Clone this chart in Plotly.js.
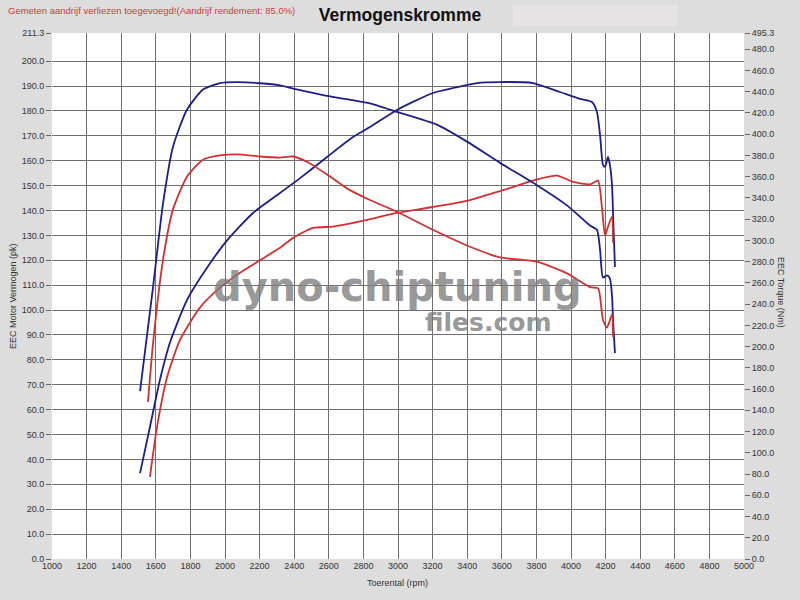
<!DOCTYPE html>
<html>
<head>
<meta charset="utf-8">
<script src="https://cdn.plot.ly/plotly-3.0.1.min.js"></script>
<style>html,body{margin:0;padding:0;background:#dddddd;}#chart{width:800px;height:600px;}</style>
</head>
<body>
<div id="chart"></div>
<script>
// Tuned torque (Nm, right axis)
var rpmTorqueTuned = [1509,1584,1642,1699,1780,1873,1971,2069,2202,2318,2393,2474,2590,2740,2838,2994,3225,3399,3590,3803,3977,4110,4150,4168,4185,4208,4225,4237,4243,4254];
var torqueTuned    = [158,256,335,388,423,442,448,449,448,446,443,440,436,432,429,421,409,393,373,352,333,314,310,291,265,267,264,248,225,194];
// Stock torque (Nm, right axis)
var rpmTorqueStock = [1555,1584,1642,1699,1780,1873,1971,2069,2202,2318,2393,2474,2590,2705,2838,2994,3202,3416,3590,3803,3977,4110,4156,4168,4185,4208,4237,4243];
var torqueStock    = [148,203,282,329,360,376,380,381,379,378,379,374,362,349,338,327,310,294,284,280,269,256,255,247,225,218,230,209];
// Tuned power (pk, left axis)
var rpmPowerTuned = [1509,1566,1624,1682,1780,1896,2012,2162,2318,2434,2590,2740,2838,2994,3202,3318,3457,3590,3780,3936,4052,4121,4150,4168,4185,4197,4214,4225,4237,4243,4254];
var powerTuned    = [34.5,53,72,87,104,117,128,139,147,153,161.5,169.5,173.5,180.4,187.2,189.2,191.2,191.6,191.2,187.6,184.8,183.6,179.6,170.3,158.3,157.5,161.5,158.3,150.2,139,117.3];
// Stock power (pk, left axis)
var rpmPowerStock = [1566,1607,1665,1740,1855,1971,2087,2202,2318,2393,2509,2624,2740,2838,2994,3202,3416,3549,3647,3803,3919,4012,4110,4156,4179,4197,4214,4237,4243];
var powerStock    = [33,53,73,88,101,109,115,120,125,129,133,133.5,135,136.5,139,141.4,144.2,147,149,152.5,154,151.5,150.5,152,141,130,133.5,137.5,127];

// Axis ticks
var xTicks = [1000,1200,1400,1600,1800,2000,2200,2400,2600,2800,3000,3200,3400,3600,3800,4000,4200,4400,4600,4800,5000];
var leftTicks = [0,10,20,30,40,50,60,70,80,90,100,110,120,130,140,150,160,170,180,190,200,211.3];
var rightTicks = [0,20,40,60,80,100,120,140,160,180,200,220,240,260,280,300,320,340,360,380,400,420,440,460,480,495.3];
var leftMax = 211.3, rightMax = 495.3;

var blue = '#1e1e8c', red = '#d23030';
var font = 'Liberation Sans, Arial, sans-serif';

function ln(c){return {color: c, width: 1.8, shape: 'spline', smoothing: 0.6};}
var traces = [
  {x: rpmPowerTuned, y: powerTuned, mode: 'lines', line: ln(blue), yaxis: 'y', hoverinfo: 'skip'},
  {x: rpmTorqueTuned, y: torqueTuned, mode: 'lines', line: ln(blue), yaxis: 'y2', hoverinfo: 'skip'},
  {x: rpmPowerStock, y: powerStock, mode: 'lines', line: ln(red), yaxis: 'y', hoverinfo: 'skip'},
  {x: rpmTorqueStock, y: torqueStock, mode: 'lines', line: ln(red), yaxis: 'y2', hoverinfo: 'skip'}
];

var L = 52, R = 744, T = 33, B = 559;
function px(x){return (x-L)/(R-L);}
function py(y){return (B-y)/(B-T);}

var layout = {
  width: 800, height: 600,
  paper_bgcolor: '#dddddd', plot_bgcolor: '#ffffff',
  margin: {l: L, r: 800-R, t: T, b: 600-B, pad: 0},
  showlegend: false,
  font: {family: font, size: 9, color: '#333333'},
  title: {text: 'Vermogenskromme', x: 0.5, xanchor: 'center', y: 1-15/600, yanchor: 'middle', yref: 'container',
          font: {family: font, size: 17.5, color: '#111111', weight: 'bold'}},
  xaxis: {range: [1000, 5000], tickvals: xTicks, ticktext: xTicks.map(String), showgrid: true, gridcolor: '#707070', gridwidth: 1,
          zeroline: false, ticks: '', showline: false, tickfont: {size: 9, color: '#333'}, fixedrange: true},
  yaxis: {range: [0, leftMax], tickvals: leftTicks, ticktext: leftTicks.map(function(v){return v.toFixed(1);}),
          showgrid: true, gridcolor: '#707070', gridwidth: 1, zeroline: false, ticks: 'outside', ticklen: 5, tickcolor: '#666',
          showline: false, tickfont: {size: 9, color: '#333'}, fixedrange: true},
  yaxis2: {range: [0, rightMax], overlaying: 'y', side: 'right', tickvals: rightTicks, ticktext: rightTicks.map(function(v){return v.toFixed(1);}),
          showgrid: false, zeroline: false, ticks: 'outside', ticklen: 5, tickcolor: '#666', showline: false,
          tickfont: {size: 9, color: '#333'}, fixedrange: true},
  shapes: [
    {type: 'rect', xref: 'paper', yref: 'paper', x0: px(513), x1: px(678), y0: py(26), y1: py(5),
     fillcolor: '#e7e3e5', line: {width: 0}, layer: 'below'}
  ],
  annotations: [
    {text: 'Gemeten aandrijf verliezen toegevoegd!(Aandrijf rendement: 85.0%)', xref: 'paper', yref: 'paper',
     x: px(6), y: py(11), xanchor: 'left', yanchor: 'middle', showarrow: false, font: {family: font, size: 9.5, color: '#d03a3a'}},
    {text: 'EEC Motor Vermogen (pk)', xref: 'paper', yref: 'paper', x: px(13), y: py(296), textangle: -90,
     xanchor: 'center', yanchor: 'middle', showarrow: false, font: {family: font, size: 9, color: '#333'}},
    {text: 'EEC Torque (Nm)', xref: 'paper', yref: 'paper', x: px(781), y: py(292), textangle: 90,
     xanchor: 'center', yanchor: 'middle', showarrow: false, font: {family: font, size: 9, color: '#333'}},
    {text: 'Toerental (rpm)', xref: 'paper', yref: 'paper', x: px(397), y: py(583),
     xanchor: 'center', yanchor: 'middle', showarrow: false, font: {family: font, size: 9, color: '#333'}},
    {text: 'dyno-chiptuning', xref: 'paper', yref: 'paper', x: px(397), y: py(287),
     xanchor: 'center', yanchor: 'middle', showarrow: false,
     font: {family: 'DejaVu Sans, sans-serif', size: 40, color: 'rgba(125,125,125,0.8)', weight: 'bold'}},
    {text: 'files.com', xref: 'paper', yref: 'paper', x: px(488), y: py(322),
     xanchor: 'center', yanchor: 'middle', showarrow: false,
     font: {family: 'DejaVu Sans, sans-serif', size: 25, color: 'rgba(125,125,125,0.8)', weight: 'bold'}}
  ]
};

Plotly.newPlot('chart', traces, layout, {displayModeBar: false, staticPlot: true});
</script>
</body>
</html>
